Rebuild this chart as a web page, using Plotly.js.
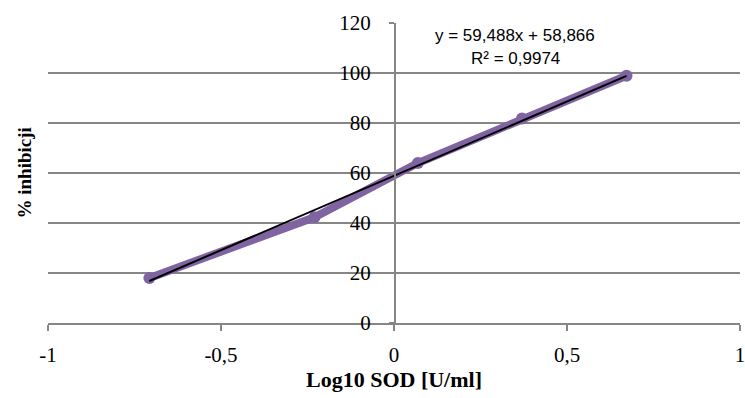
<!DOCTYPE html>
<html><head><meta charset="utf-8">
<script src="https://cdn.plot.ly/plotly-3.0.1.min.js"></script>
<style>html,body{margin:0;padding:0;background:#fff}</style>
</head><body>
<div id="chart" style="width:745px;height:398px"></div>
<script>
const logSOD = [-0.707, -0.23, 0.069, 0.37, 0.672];
const inhibition = [18, 42.3, 64, 81.8, 98.9];
const slope = 59.488;
const intercept = 58.866;
const equationText = 'y = 59,488x + 58,866';
const r2Text = 'R² = 0,9974';
const xTicks = [-1, -0.5, 0, 0.5, 1];
const xTickText = ['-1', '-0,5', '0', '0,5', '1'];
const yTicks = [0, 20, 40, 60, 80, 100, 120];

const trendX = [Math.min(...logSOD), Math.max(...logSOD)];
const trendY = trendX.map(x => slope * x + intercept);

const serif = 'Liberation Serif, Times New Roman, serif';
const data = [
  {x: logSOD, y: inhibition, type: 'scatter', mode: 'lines+markers',
   line: {color: '#8064A2', width: 8}, marker: {color: '#8064A2', size: 12},
   showlegend: false, hoverinfo: 'x+y'},
  {x: trendX, y: trendY, type: 'scatter', mode: 'lines',
   line: {color: '#000000', width: 2}, showlegend: false}
];

const layout = {
  width: 745, height: 398,
  margin: {l: 48, r: 5, t: 23, b: 75},
  paper_bgcolor: '#fff', plot_bgcolor: '#fff',
  separators: ', ',
  xaxis: {
    range: [-1, 1], tickvals: xTicks, ticktext: xTickText,
    showgrid: false, zeroline: false, automargin: false,
    ticklabeloverflow: 'allow',
    showline: true, linecolor: '#868686', linewidth: 1.5,
    ticks: 'outside', ticklen: 6, tickcolor: '#868686', tickwidth: 1.5,
    tickfont: {family: serif, size: 21, color: '#000'},
    ticklabelstandoff: 6,
    title: {text: '<b>Log10 SOD [U/ml]</b>', standoff: 6,
            font: {family: serif, size: 22, color: '#000'}}
  },
  yaxis: {
    range: [0, 120], tickvals: yTicks, anchor: 'free', position: 0.5,
    showgrid: true, gridcolor: '#868686', gridwidth: 1.5, zeroline: false,
    automargin: false,
    showline: true, linecolor: '#868686', linewidth: 1.5,
    ticks: 'outside', ticklen: 5, tickcolor: '#868686', tickwidth: 1.5,
    tickfont: {family: serif, size: 21, color: '#000'},
    ticklabelstandoff: 14
  },
  annotations: [
    {text: '<b>% inhibicji</b>', xref: 'paper', yref: 'paper', x: -0.034, y: 0.5,
     xanchor: 'center', yanchor: 'middle', textangle: -90, showarrow: false,
     font: {family: serif, size: 19, color: '#000'}},
    {text: equationText, xref: 'paper', yref: 'paper', x: 0.675, y: 0.96,
     xanchor: 'center', yanchor: 'middle', showarrow: false,
     font: {family: 'Liberation Sans, Arial, sans-serif', size: 17, color: '#000'}},
    {text: r2Text, xref: 'paper', yref: 'paper', x: 0.675, y: 0.882,
     xanchor: 'center', yanchor: 'middle', showarrow: false,
     font: {family: 'Liberation Sans, Arial, sans-serif', size: 17, color: '#000'}}
  ]
};

Plotly.newPlot('chart', data, layout, {staticPlot: true, displayModeBar: false});
</script>
</body></html>
